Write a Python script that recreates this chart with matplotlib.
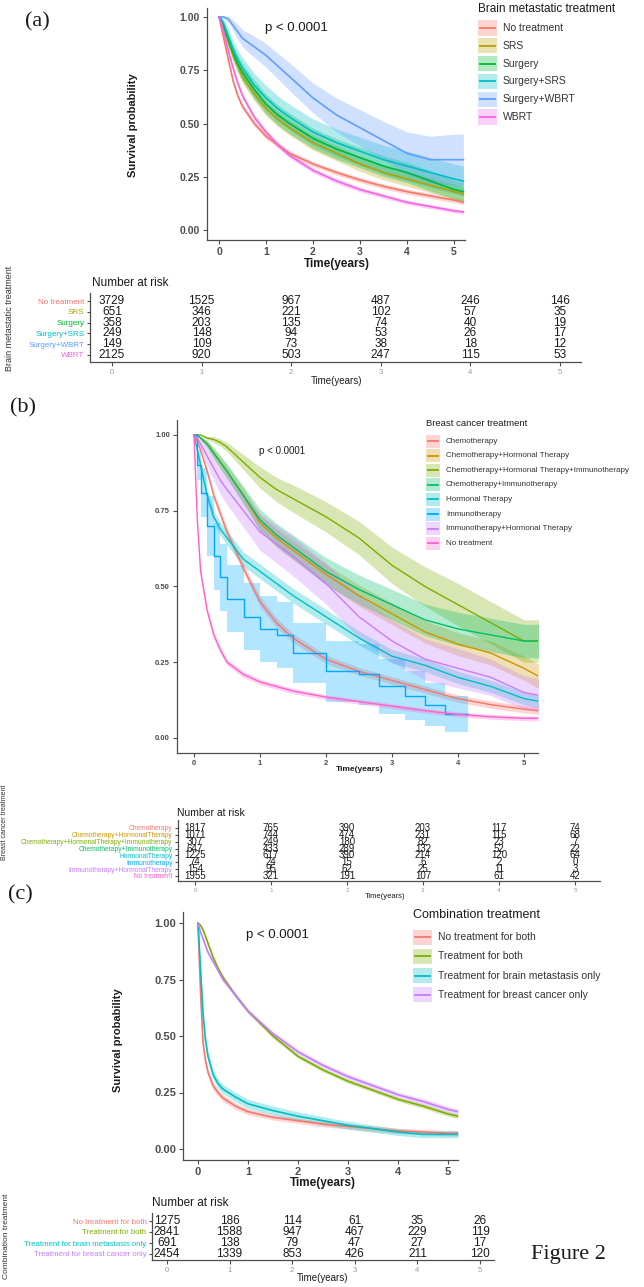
import matplotlib.pyplot as plt
import numpy as np
from matplotlib.lines import Line2D
from matplotlib.patches import Rectangle

plt.rcParams["font.family"] = ["Liberation Sans", "DejaVu Sans"]

W, H = 644, 1287

# ---------------- panel (a): brain metastatic treatment ----------------
a_labels = ["No treatment", "SRS", "Surgery", "Surgery+SRS", "Surgery+WBRT", "WBRT"]
a_colors = ["#F8766D", "#B79F00", "#00BA38", "#00BFC4", "#619CFF", "#F564E3"]
a_time = [0, 0.05, 0.1, 0.2, 0.3, 0.4, 0.5, 0.75, 1, 1.25, 1.5, 2, 2.5, 3, 3.5, 4, 4.5, 5, 5.2]
a_none = [1, 0.95, 0.9, 0.8, 0.7, 0.63, 0.58, 0.5, 0.44, 0.4, 0.36, 0.31, 0.27, 0.235, 0.205, 0.18, 0.16, 0.14, 0.13]
a_srs = [1, 0.98, 0.95, 0.88, 0.82, 0.77, 0.72, 0.64, 0.57, 0.52, 0.48, 0.41, 0.36, 0.31, 0.27, 0.24, 0.21, 0.18, 0.17]
a_surg = [1, 0.98, 0.95, 0.89, 0.83, 0.78, 0.74, 0.66, 0.59, 0.54, 0.5, 0.43, 0.38, 0.34, 0.3, 0.27, 0.23, 0.19, 0.18]
a_surg_srs = [1, 0.99, 0.97, 0.91, 0.85, 0.8, 0.76, 0.68, 0.62, 0.57, 0.53, 0.46, 0.41, 0.37, 0.33, 0.3, 0.27, 0.24, 0.23]
a_surg_wbrt = [1, 1, 1, 0.99, 0.96, 0.93, 0.9, 0.86, 0.82, 0.77, 0.72, 0.62, 0.54, 0.48, 0.42, 0.36, 0.33, 0.33, 0.33]
a_wbrt = [1, 0.97, 0.93, 0.84, 0.76, 0.69, 0.63, 0.53, 0.46, 0.4, 0.35, 0.28, 0.23, 0.19, 0.16, 0.13, 0.11, 0.09, 0.085]
# confidence band half widths
a_none_ci = [0, 0.005, 0.008, 0.01, 0.012, 0.012, 0.013, 0.013, 0.013, 0.013, 0.013, 0.012, 0.012, 0.012, 0.012, 0.012, 0.012, 0.012, 0.012]
a_srs_ci = [0, 0.01, 0.015, 0.02, 0.025, 0.028, 0.03, 0.032, 0.033, 0.034, 0.035, 0.035, 0.035, 0.035, 0.035, 0.035, 0.035, 0.035, 0.035]
a_surg_ci = [0, 0.01, 0.02, 0.03, 0.035, 0.04, 0.042, 0.045, 0.047, 0.048, 0.048, 0.048, 0.048, 0.048, 0.048, 0.048, 0.048, 0.045, 0.045]
a_surg_srs_ci = [0, 0.01, 0.02, 0.035, 0.04, 0.045, 0.05, 0.055, 0.058, 0.06, 0.06, 0.062, 0.064, 0.066, 0.068, 0.07, 0.07, 0.07, 0.07]
a_surg_wbrt_ci = [0, 0, 0.005, 0.015, 0.025, 0.035, 0.04, 0.05, 0.055, 0.06, 0.065, 0.07, 0.08, 0.085, 0.09, 0.1, 0.11, 0.12, 0.12]
a_wbrt_ci = [0, 0.005, 0.008, 0.01, 0.012, 0.012, 0.013, 0.013, 0.013, 0.013, 0.013, 0.012, 0.012, 0.011, 0.011, 0.01, 0.01, 0.01, 0.01]
a_risk = [
    [3729, 1525, 967, 487, 246, 146],
    [651, 346, 221, 102, 57, 35],
    [358, 203, 135, 74, 40, 19],
    [249, 148, 94, 53, 26, 17],
    [149, 109, 73, 38, 18, 12],
    [2125, 920, 503, 247, 115, 53],
]

# ---------------- panel (b): breast cancer treatment ----------------
b_labels = ["Chemotherapy", "Chemotherapy+Hormonal Therapy",
            "Chemotherapy+Hormonal Therapy+Immunotherapy", "Chemotherapy+Immunotherapy",
            "Hormonal Therapy", "Immunotherapy", "Immunotherapy+Hormonal Therapy", "No treatment"]
b_table_labels = ["Chemotherapy", "Chemotherapy+HormonalTherapy",
                  "Chemotherapy+HormonalTherapy+Immunotherapy", "Chemotherapy+Immunotherapy",
                  "HormonalTherapy", "Immunotherapy", "Immunotherapy+HormonalTherapy", "No treatment"]
b_colors = ["#F8766D", "#CD9600", "#7CAE00", "#00BE67", "#00BFC4", "#00A9FF", "#C77CFF", "#FF61CC"]
b_time = [0, 0.05, 0.1, 0.2, 0.3, 0.4, 0.5, 0.75, 1, 1.25, 1.5, 2, 2.5, 3, 3.5, 4, 4.5, 5, 5.25]
b_chemo = [1, 0.98, 0.95, 0.88, 0.8, 0.74, 0.68, 0.56, 0.45, 0.38, 0.33, 0.26, 0.22, 0.19, 0.16, 0.13, 0.11, 0.095, 0.09]
b_chemo_horm = [1, 1, 0.99, 0.97, 0.94, 0.91, 0.88, 0.8, 0.71, 0.66, 0.62, 0.54, 0.47, 0.41, 0.35, 0.31, 0.28, 0.23, 0.2]
b_chemo_horm_imm = [1, 1, 1, 0.99, 0.985, 0.975, 0.96, 0.91, 0.86, 0.82, 0.79, 0.73, 0.66, 0.57, 0.5, 0.44, 0.38, 0.32, 0.32]
b_chemo_imm = [1, 1, 0.99, 0.97, 0.94, 0.91, 0.88, 0.8, 0.72, 0.67, 0.63, 0.55, 0.49, 0.44, 0.39, 0.36, 0.34, 0.32, 0.32]
b_horm = [1, 0.95, 0.9, 0.8, 0.73, 0.69, 0.66, 0.59, 0.55, 0.51, 0.47, 0.4, 0.33, 0.27, 0.24, 0.2, 0.17, 0.13, 0.12]
b_imm_time = [0, 0.05, 0.1, 0.2, 0.3, 0.4, 0.5, 0.75, 1, 1.25, 1.5, 2, 2.5, 2.8, 3.2, 3.5, 3.8, 4.15]
b_imm = [1, 0.9, 0.81, 0.7, 0.6, 0.53, 0.46, 0.4, 0.36, 0.34, 0.28, 0.22, 0.21, 0.17, 0.14, 0.11, 0.08, 0.08]
b_imm_horm = [1, 0.99, 0.97, 0.93, 0.89, 0.85, 0.82, 0.75, 0.68, 0.64, 0.6, 0.51, 0.4, 0.32, 0.26, 0.23, 0.2, 0.15, 0.14]
b_none = [1, 0.72, 0.55, 0.42, 0.34, 0.29, 0.25, 0.21, 0.185, 0.17, 0.155, 0.135, 0.12, 0.105, 0.09, 0.078, 0.07, 0.065, 0.065]
b_chemo_ci = [0, 0.005, 0.008, 0.012, 0.014, 0.015, 0.016, 0.016, 0.016, 0.016, 0.015, 0.014, 0.013, 0.012, 0.012, 0.012, 0.012, 0.012, 0.012]
b_chemo_horm_ci = [0, 0, 0.005, 0.01, 0.015, 0.018, 0.02, 0.024, 0.027, 0.03, 0.031, 0.033, 0.035, 0.036, 0.037, 0.038, 0.04, 0.04, 0.04]
b_chemo_horm_imm_ci = [0, 0, 0, 0.005, 0.01, 0.012, 0.015, 0.025, 0.035, 0.04, 0.045, 0.05, 0.055, 0.06, 0.065, 0.07, 0.07, 0.07, 0.07]
b_chemo_imm_ci = [0, 0, 0.005, 0.012, 0.018, 0.022, 0.025, 0.03, 0.035, 0.038, 0.04, 0.045, 0.048, 0.05, 0.052, 0.055, 0.055, 0.055, 0.055]
b_horm_ci = [0, 0.008, 0.012, 0.018, 0.02, 0.022, 0.023, 0.024, 0.024, 0.024, 0.024, 0.024, 0.023, 0.022, 0.021, 0.02, 0.02, 0.02, 0.02]
b_imm_ci = [0, 0.05, 0.08, 0.1, 0.11, 0.11, 0.11, 0.11, 0.11, 0.11, 0.1, 0.1, 0.1, 0.09, 0.08, 0.07, 0.06, 0.06]
b_imm_horm_ci = [0, 0.005, 0.015, 0.03, 0.04, 0.045, 0.05, 0.055, 0.06, 0.062, 0.065, 0.068, 0.07, 0.07, 0.068, 0.065, 0.06, 0.055, 0.055]
b_none_ci = [0, 0.015, 0.015, 0.013, 0.012, 0.011, 0.01, 0.01, 0.009, 0.009, 0.009, 0.008, 0.008, 0.008, 0.008, 0.008, 0.008, 0.008, 0.008]
b_risk = [
    [1817, 765, 390, 203, 117, 74],
    [1071, 744, 474, 231, 115, 68],
    [307, 249, 180, 82, 23, 7],
    [647, 433, 289, 132, 52, 22],
    [1225, 617, 390, 214, 120, 64],
    [74, 24, 15, 6, 2, 0],
    [154, 95, 62, 25, 11, 3],
    [1955, 321, 191, 107, 61, 42],
]

# ---------------- panel (c): combination treatment ----------------
c_labels = ["No treatment for both", "Treatment for both",
            "Treatment for brain metastasis only", "Treatment for breast cancer only"]
c_colors = ["#F8766D", "#7CAE00", "#00BFC4", "#C77CFF"]
c_time = [0, 0.05, 0.1, 0.15, 0.2, 0.3, 0.4, 0.5, 0.75, 1, 1.5, 2, 2.5, 3, 3.5, 4, 4.5, 5, 5.2]
c_none = [1, 0.7, 0.47, 0.39, 0.34, 0.28, 0.25, 0.225, 0.19, 0.165, 0.14, 0.125, 0.11, 0.1, 0.09, 0.08, 0.075, 0.07, 0.07]
c_both = [1, 0.99, 0.97, 0.94, 0.91, 0.85, 0.8, 0.76, 0.68, 0.61, 0.5, 0.41, 0.35, 0.3, 0.26, 0.22, 0.19, 0.155, 0.145]
c_brain = [1, 0.8, 0.6, 0.48, 0.41, 0.33, 0.29, 0.265, 0.23, 0.2, 0.17, 0.145, 0.125, 0.105, 0.09, 0.075, 0.065, 0.065, 0.065]
c_breast = [1, 0.96, 0.93, 0.9, 0.87, 0.83, 0.79, 0.75, 0.68, 0.61, 0.51, 0.43, 0.37, 0.32, 0.28, 0.24, 0.21, 0.175, 0.165]
c_none_ci = [0, 0.02, 0.02, 0.018, 0.017, 0.016, 0.015, 0.015, 0.014, 0.013, 0.012, 0.012, 0.012, 0.012, 0.012, 0.012, 0.012, 0.012, 0.012]
c_both_ci = [0, 0.003, 0.005, 0.006, 0.007, 0.008, 0.009, 0.009, 0.009, 0.009, 0.009, 0.009, 0.009, 0.009, 0.009, 0.009, 0.01, 0.01, 0.01]
c_brain_ci = [0, 0.02, 0.025, 0.025, 0.024, 0.022, 0.021, 0.02, 0.02, 0.02, 0.02, 0.019, 0.018, 0.017, 0.016, 0.015, 0.015, 0.015, 0.015]
c_breast_ci = [0, 0.005, 0.006, 0.007, 0.008, 0.009, 0.01, 0.01, 0.01, 0.01, 0.01, 0.011, 0.011, 0.012, 0.012, 0.012, 0.013, 0.013, 0.013]
c_risk = [
    [1275, 186, 114, 61, 35, 26],
    [2841, 1588, 947, 467, 229, 119],
    [691, 138, 79, 47, 27, 17],
    [2454, 1339, 853, 426, 211, 120],
]

year_ticks = [0, 1, 2, 3, 4, 5]
surv_ticks = [0, 0.25, 0.5, 0.75, 1.0]

fig = plt.figure(figsize=(W / 100, H / 100), dpi=100)


def px_axes(left, top, right, bottom):
    return fig.add_axes([left / W, 1 - bottom / H, (right - left) / W, (bottom - top) / H])


def px_text(x, y, s, **kw):
    kw.setdefault("color", "#1a1a1a")
    fig.text(x / W, 1 - y / H, s, **kw)


def lims_from_px(ax, left, right, x0, x5, top, bottom, y_hi, y_lo, vhi, vlo):
    # map pixel reads of two ticks to data limits
    sx = (x5 - x0) / 5.0
    ax.set_xlim((left - x0) / sx, 5 + (right - x5) / sx)
    sy = (y_lo - y_hi) / (vhi - vlo)
    ax.set_ylim(vlo - (bottom - y_lo) / sy, vhi + (y_hi - top) / sy)


def style(ax, fs, bold=True, color="#4d4d4d"):
    for s in ["top", "right"]:
        ax.spines[s].set_visible(False)
    for s in ["left", "bottom"]:
        ax.spines[s].set_color("#4d4d4d")
        ax.spines[s].set_linewidth(0.9)
    ax.tick_params(colors="#4d4d4d", labelcolor=color, labelsize=fs, length=3, width=0.8, pad=2)
    if bold:
        for lab in ax.get_xticklabels() + ax.get_yticklabels():
            lab.set_fontweight("bold")


def km(ax, t, s, hw, color, steps=False, lw=1.2):
    t = np.asarray(t, float)
    s = np.asarray(s, float)
    hw = np.asarray(hw, float)
    if steps:
        ax.fill_between(t, s - hw, s + hw, color=color, alpha=0.3, lw=0, step="post")
        ax.plot(t, s, color=color, lw=lw, drawstyle="steps-post")
    else:
        ax.fill_between(t, s - hw, s + hw, color=color, alpha=0.3, lw=0)
        ax.plot(t, s, color=color, lw=lw)


def legend(title, labels, colors, x, y_title, y0, dy, kw, kh, fs_t, fs_i):
    px_text(x, y_title, title, fontsize=fs_t, va="center", ha="left")
    for i, (lab, c) in enumerate(zip(labels, colors)):
        yc = y0 + i * dy
        fig.add_artist(Rectangle((x / W, 1 - (yc + kh / 2) / H), kw / W, kh / H,
                                 transform=fig.transFigure, color=c, alpha=0.3, lw=0))
        fig.add_artist(Line2D([(x + 2) / W, (x + kw - 2) / W], [1 - yc / H] * 2,
                              transform=fig.transFigure, color=c, lw=1.3))
        px_text(x + kw + 6, yc, lab, fontsize=fs_i, va="center", ha="left", color="#333333")


def risk_table(ax, labels, counts, colors, fs_num, fs_lab, fs_tick):
    n = len(labels)
    for i, row in enumerate(counts):
        for t, v in zip(year_ticks, row):
            ax.text(t, n - 1 - i, str(v), ha="center", va="center", fontsize=fs_num, color="#1a1a1a")
    ax.set_yticks(range(n))
    ax.set_yticklabels(labels[::-1])
    ax.set_xticks(year_ticks)
    style(ax, fs_tick, bold=False, color="#999999")
    ax.tick_params(axis="y", labelsize=fs_lab, length=2)
    for lab, c in zip(ax.get_yticklabels(), colors[::-1]):
        lab.set_color(c)


# ---------------- draw (a) ----------------
ax = px_axes(207, 8, 465, 240)
for t_s, hw, c in zip([a_none, a_srs, a_surg, a_surg_srs, a_surg_wbrt, a_wbrt],
                      [a_none_ci, a_srs_ci, a_surg_ci, a_surg_srs_ci, a_surg_wbrt_ci, a_wbrt_ci],
                      a_colors):
    km(ax, a_time, t_s, hw, c)
lims_from_px(ax, 207, 465, 219, 454, 8, 240, 17, 230, 1.0, 0.0)
ax.set_xticks(year_ticks)
ax.set_yticks(surv_ticks)
ax.set_yticklabels(["0.00", "0.25", "0.50", "0.75", "1.00"])
style(ax, 7.5)
ax.text(1.65, 0.95, "p < 0.0001", fontsize=9.5, ha="center", va="center", color="#1a1a1a")
px_text(133, 125, "Survival probability", rotation=90, fontsize=8, fontweight="bold", ha="center", va="center")
px_text(337, 264, "Time(years)", fontsize=8.5, fontweight="bold", ha="center", va="center")
px_text(25, 22, "(a)", fontsize=16, family="Liberation Serif", ha="left", va="center")
legend("Brain metastatic treatment", a_labels, a_colors, 478, 9, 28, 17.8, 19, 15, 8.5, 7.5)

ax = px_axes(90, 293, 581, 362)
risk_table(ax, a_labels, a_risk, a_colors, 8.5, 5.8, 5.5)
lims_from_px(ax, 90, 581, 112, 560, 293, 362, 301, 355, 5, 0)
px_text(92, 283, "Number at risk", fontsize=8.5, ha="left", va="center")
px_text(337, 381, "Time(years)", fontsize=7, ha="center", va="center")
px_text(10, 318, "Brain metastatic treatment", rotation=90, fontsize=6.5, ha="center", va="center", color="#333333")

# ---------------- draw (b) ----------------
ax = px_axes(177, 420, 538, 753)
b_series = [b_chemo, b_chemo_horm, b_chemo_horm_imm, b_chemo_imm, b_horm, b_imm, b_imm_horm, b_none]
b_cis = [b_chemo_ci, b_chemo_horm_ci, b_chemo_horm_imm_ci, b_chemo_imm_ci, b_horm_ci, b_imm_ci, b_imm_horm_ci, b_none_ci]
for i, (s, hw, c) in enumerate(zip(b_series, b_cis, b_colors)):
    if b_labels[i] == "Immunotherapy":
        km(ax, b_imm_time, s, hw, c, steps=True, lw=1.0)
    else:
        km(ax, b_time, s, hw, c, lw=1.0)
lims_from_px(ax, 177, 538, 194, 524, 420, 753, 435, 738, 1.0, 0.0)
ax.set_xticks(year_ticks)
ax.set_yticks(surv_ticks)
ax.set_yticklabels(["0.00", "0.25", "0.50", "0.75", "1.00"])
style(ax, 5.5)
ax.text(1.34, 0.947, "p < 0.0001", fontsize=7, ha="center", va="center", color="#1a1a1a")
px_text(360, 769, "Time(years)", fontsize=6, fontweight="bold", ha="center", va="center")
px_text(10, 408, "(b)", fontsize=16, family="Liberation Serif", ha="left", va="center")
legend("Breast cancer treatment", b_labels, b_colors, 426, 424, 441, 14.6, 14, 13, 6.8, 5.8)

ax = px_axes(178, 820, 600, 881)
risk_table(ax, b_table_labels, b_risk, b_colors, 7, 4.8, 4.5)
lims_from_px(ax, 178, 600, 195, 575, 820, 881, 828, 876, 7, 0)
px_text(177, 813, "Number at risk", fontsize=7.5, ha="left", va="center")
px_text(385, 897, "Time(years)", fontsize=5.5, ha="center", va="center")
px_text(5, 822, "Breast cancer treatment", rotation=90, fontsize=5, ha="center", va="center", color="#333333")

# ---------------- draw (c) ----------------
ax = px_axes(183, 912, 458, 1160)
for s, hw, c in zip([c_none, c_both, c_brain, c_breast],
                    [c_none_ci, c_both_ci, c_brain_ci, c_breast_ci], c_colors):
    km(ax, c_time, s, hw, c)
lims_from_px(ax, 183, 458, 198, 448, 912, 1160, 923, 1149, 1.0, 0.0)
ax.set_xticks(year_ticks)
ax.set_yticks(surv_ticks)
ax.set_yticklabels(["0.00", "0.25", "0.50", "0.75", "1.00"])
style(ax, 8)
ax.text(1.58, 0.947, "p < 0.0001", fontsize=9.5, ha="center", va="center", color="#1a1a1a")
px_text(118, 1040, "Survival probability", rotation=90, fontsize=8, fontweight="bold", ha="center", va="center")
px_text(323, 1183, "Time(years)", fontsize=8.5, fontweight="bold", ha="center", va="center")
px_text(8, 895, "(c)", fontsize=16, family="Liberation Serif", ha="left", va="center")
legend("Combination treatment", c_labels, c_colors, 413, 915, 937, 19.3, 19, 15, 9, 7.5)

ax = px_axes(152, 1213, 494, 1260)
risk_table(ax, c_labels, c_risk, c_colors, 8.5, 5.6, 5.5)
lims_from_px(ax, 152, 494, 167, 480, 1213, 1260, 1221, 1254, 3, 0)
px_text(152, 1203, "Number at risk", fontsize=8.5, ha="left", va="center")
px_text(323, 1278, "Time(years)", fontsize=7, ha="center", va="center")
px_text(7, 1236, "Combination treatment", rotation=90, fontsize=6, ha="center", va="center", color="#333333")

px_text(568, 1255, "Figure 2", fontsize=16, family="Liberation Serif", ha="center", va="center")

fig.savefig("out.png", dpi=100)
